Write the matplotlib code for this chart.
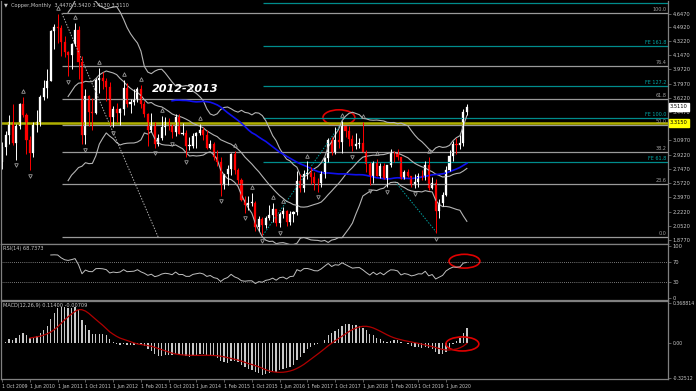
import numpy as np
import pandas as pd
import matplotlib
matplotlib.use("Agg")
import matplotlib.pyplot as plt
from matplotlib.patches import Ellipse

# Copper, monthly bars, Oct 2009 .. Dec 2020
opens = [2.83, 3.02, 3.17,
         3.33, 3.07, 3.28, 3.55, 3.41, 3.10, 2.94, 3.29, 3.33, 3.63, 3.74, 3.83,
         4.44, 4.49, 4.48, 4.31, 4.19, 4.15, 4.28, 4.46, 4.06, 3.16, 3.64, 3.45,
         3.43, 3.84, 3.86, 3.83, 3.75, 3.39, 3.49, 3.43, 3.49, 3.74, 3.54, 3.57,
         3.59, 3.73, 3.55, 3.42, 3.22, 3.31, 3.06, 3.13, 3.26, 3.32, 3.28, 3.20,
         3.39, 3.18, 3.19, 3.03, 3.03, 3.15, 3.19, 3.23, 3.17, 3.00, 3.05, 2.89,
         2.83, 2.55, 2.68, 2.75, 2.93, 2.73, 2.61, 2.36, 2.31, 2.33, 2.33, 2.04,
         2.13, 2.06, 2.15, 2.18, 2.25, 2.08, 2.20, 2.23, 2.09, 2.20, 2.22, 2.60,
         2.51, 2.69, 2.70, 2.65, 2.58, 2.57, 2.69, 2.88, 3.10, 2.95, 3.10, 3.08,
         3.30, 3.21, 3.12, 3.03, 3.06, 3.07, 2.96, 2.81, 2.66, 2.82, 2.66, 2.78,
         2.63, 2.80, 2.95, 2.94, 2.89, 2.63, 2.71, 2.66, 2.55, 2.59, 2.66, 2.65,
         2.79, 2.51, 2.58, 2.23, 2.33, 2.43, 2.73, 2.91, 3.05, 3.04, 3.07, 3.447]
highs = [3.08, 3.21, 3.41,
         3.55, 3.30, 3.56, 3.63, 3.43, 3.15, 3.32, 3.47, 3.65, 3.84, 3.97, 4.45,
         4.53, 4.65, 4.51, 4.38, 4.20, 4.30, 4.54, 4.50, 4.14, 3.73, 3.66, 3.62,
         3.87, 3.99, 3.94, 3.86, 3.81, 3.52, 3.56, 3.50, 3.84, 3.80, 3.61, 3.73,
         3.75, 3.78, 3.58, 3.44, 3.44, 3.33, 3.18, 3.40, 3.39, 3.37, 3.30, 3.42,
         3.42, 3.31, 3.22, 3.14, 3.19, 3.20, 3.30, 3.26, 3.22, 3.10, 3.08, 2.98,
         2.90, 2.68, 2.80, 2.94, 2.97, 2.76, 2.64, 2.42, 2.42, 2.45, 2.35, 2.17,
         2.16, 2.17, 2.30, 2.33, 2.26, 2.22, 2.28, 2.24, 2.23, 2.23, 2.72, 2.68,
         2.73, 2.84, 2.77, 2.71, 2.64, 2.72, 2.89, 3.13, 3.14, 3.26, 3.22, 3.34,
         3.28, 3.27, 3.17, 3.19, 3.13, 3.33, 2.98, 2.83, 2.84, 2.87, 2.82, 2.82,
         2.80, 2.99, 2.97, 2.99, 2.90, 2.73, 2.75, 2.66, 2.68, 2.70, 2.73, 2.85,
         2.90, 2.65, 2.63, 2.38, 2.47, 2.78, 2.98, 3.09, 3.13, 3.17, 3.48, 3.542]
lows = [2.75, 2.92, 3.05,
        3.04, 2.86, 3.24, 3.38, 2.93, 2.73, 2.90, 3.20, 3.28, 3.60, 3.62, 3.83,
        4.22, 4.30, 4.14, 4.12, 3.89, 3.97, 4.26, 3.85, 3.06, 3.05, 3.27, 3.23,
        3.42, 3.68, 3.73, 3.58, 3.29, 3.26, 3.33, 3.29, 3.41, 3.51, 3.44, 3.53,
        3.57, 3.50, 3.38, 3.03, 3.20, 3.01, 3.03, 3.10, 3.17, 3.22, 3.13, 3.15,
        3.18, 3.16, 2.90, 2.98, 3.01, 3.01, 3.17, 3.10, 2.99, 2.99, 2.86, 2.78,
        2.42, 2.50, 2.55, 2.67, 2.69, 2.56, 2.35, 2.21, 2.24, 2.29, 1.99, 1.99,
        1.935, 2.02, 2.12, 2.10, 2.05, 2.03, 2.14, 2.05, 2.06, 2.09, 2.18, 2.46,
        2.46, 2.62, 2.56, 2.49, 2.47, 2.52, 2.64, 2.83, 2.92, 2.93, 3.01, 2.94,
        3.14, 3.03, 2.97, 2.99, 3.00, 2.96, 2.71, 2.55, 2.58, 2.66, 2.64, 2.62,
        2.53, 2.77, 2.83, 2.86, 2.62, 2.62, 2.65, 2.52, 2.51, 2.53, 2.61, 2.61,
        2.49, 2.50, 1.96, 2.15, 2.29, 2.42, 2.72, 2.84, 2.93, 2.99, 3.03, 3.413]
closes = [3.02, 3.17, 3.33,
          3.07, 3.28, 3.55, 3.41, 3.10, 2.94, 3.29, 3.33, 3.63, 3.74, 3.83, 4.44,
          4.49, 4.48, 4.31, 4.19, 4.15, 4.28, 4.46, 4.06, 3.16, 3.64, 3.45, 3.43,
          3.84, 3.86, 3.83, 3.75, 3.39, 3.49, 3.43, 3.49, 3.74, 3.54, 3.57, 3.59,
          3.73, 3.55, 3.42, 3.22, 3.31, 3.06, 3.13, 3.26, 3.32, 3.28, 3.20, 3.39,
          3.18, 3.19, 3.03, 3.03, 3.15, 3.19, 3.23, 3.17, 3.00, 3.05, 2.89, 2.83,
          2.55, 2.68, 2.75, 2.93, 2.73, 2.61, 2.36, 2.31, 2.33, 2.33, 2.04, 2.13,
          2.06, 2.15, 2.18, 2.25, 2.08, 2.20, 2.23, 2.09, 2.20, 2.22, 2.60, 2.51,
          2.69, 2.70, 2.65, 2.58, 2.57, 2.69, 2.88, 3.10, 2.95, 3.10, 3.08, 3.30,
          3.21, 3.12, 3.03, 3.06, 3.07, 2.96, 2.81, 2.66, 2.82, 2.66, 2.78, 2.63,
          2.80, 2.95, 2.94, 2.89, 2.63, 2.71, 2.66, 2.55, 2.59, 2.66, 2.65, 2.79,
          2.51, 2.58, 2.23, 2.33, 2.43, 2.73, 2.91, 3.05, 3.04, 3.07, 3.447, 3.511]

date_labels = ["1 Oct 2009", "1 Jun 2010", "1 Jan 2011", "1 Oct 2011", "1 Jun 2012",
               "1 Feb 2013", "1 Oct 2013", "1 Jun 2014", "1 Feb 2015", "1 Oct 2015",
               "1 Jun 2016", "1 Feb 2017", "1 Oct 2017", "1 Jun 2018", "1 Feb 2019",
               "1 Oct 2019", "1 Jun 2020"]
price_ticks = [4.6470, 4.4920, 4.3220, 4.1470, 3.9720, 3.7970, 3.6220, 3.4470, 3.2720,
               3.0970, 2.9220, 2.7470, 2.5720, 2.3970, 2.2220, 2.0520, 1.8770]

fib_names = ["100.0", "76.4", "61.8", "50.0", "38.2", "23.6", "0.0"]
fib_prices = [4.659, 4.010, 3.608, 3.284, 2.959, 2.557, 1.908]
fe_names = ["", "FE 161.8", "FE 127.2", "FE 100.0", "FE 61.8"]
fe_prices = [4.790, 4.258, 3.766, 3.373, 2.833]
yellow_price = 3.315

rsi_ticks = [100, 70, 30, 0]
macd_ticks = [0.368814, 0.0, -0.32512]
macd_tick_labels = ["0.368814", "0.00", "-0.32512"]

BG = "black"
GRID = "#808080"
TXT = "#c8c8c8"
W, H = 696, 391


def box(x0, y0, x1, y1):
    return [x0 / W, 1 - y1 / H, (x1 - x0) / W, (y1 - y0) / H]


n = len(closes)
idx = np.arange(n)
o, h, l, c = map(np.array, (opens, highs, lows, closes))
close = pd.Series(c)

# indicators of the price series
mid = close.rolling(20).mean()
sd = close.rolling(20).std(ddof=0)
ma50 = close.rolling(50).mean()
delta = close.diff()
gain = delta.clip(lower=0).ewm(alpha=1 / 14, adjust=False, min_periods=14).mean()
loss = (-delta.clip(upper=0)).ewm(alpha=1 / 14, adjust=False, min_periods=14).mean()
rsi = 100 - 100 / (1 + gain / loss)
macd = close.ewm(span=12, adjust=False).mean() - close.ewm(span=26, adjust=False).mean()
signal = macd.rolling(9).mean()

fig = plt.figure(figsize=(W / 100, H / 100), dpi=100, facecolor=BG)
ax = fig.add_axes(box(1, 1, 668, 244), facecolor=BG)
ax_rsi = fig.add_axes(box(1, 244, 668, 300), facecolor=BG, sharex=ax)
ax_macd = fig.add_axes(box(1, 301, 668, 379), facecolor=BG, sharex=ax)

for a in (ax, ax_rsi, ax_macd):
    for s in a.spines.values():
        s.set_color(GRID)
        s.set_linewidth(0.9)
    a.yaxis.tick_right()
    a.tick_params(axis="y", colors=GRID, labelcolor=TXT, labelsize=3.7, length=2,
                  width=0.5, pad=1.2)
    a.tick_params(axis="x", bottom=False, labelbottom=False)
ax.spines["top"].set_visible(False)

ax.set_xlim(-0.35, 192.0)
ax.set_ylim(1.8254, 4.8107)
ax_rsi.set_ylim(-4.9, 104.9)
ax_macd.set_ylim(-0.3342, 0.3873)

# fibo retracement and expansion levels
ax.hlines(fib_prices, 17.2, 192, color="#9a9a9a", lw=0.9)
ax.hlines(fe_prices, 75.2, 192, color="#008c8c", lw=0.9)
for name, p in zip(fib_names, fib_prices):
    ax.text(191.6, p + 0.012, name, color="#a0a0a0", fontsize=3.5, ha="right", va="bottom")
for name, p in zip(fe_names, fe_prices):
    ax.text(191.6, p + 0.012, name, color="#00a8a8", fontsize=3.5, ha="right", va="bottom")
ax.plot([17.2, 45.0], [fib_prices[0], fib_prices[-1]], color="#b0b0b0", lw=0.7, ls=(0, (1.5, 1.5)))
ax.plot([75.2, 98.3], [1.935, 3.34], color="#00a0a0", lw=0.7, ls=(0, (1.5, 1.5)))
ax.plot([113.3, 125.4], [2.59, 1.96], color="#00a0a0", lw=0.7, ls=(0, (1.5, 1.5)))
ax.axhline(yellow_price, color="#b0b000", lw=1.8)

# bollinger bands and moving average
for band in (mid + 2 * sd, mid, mid - 2 * sd):
    ax.plot(idx, band, color="#b4b4b4", lw=0.8)
ax.plot(idx, ma50, color="#1010f0", lw=1.2)

# candles
up = c >= o
col = np.where(up, "#ffffff", "#ff0000")
ax.vlines(idx, l, h, colors=col, lw=0.7)
ax.bar(idx, np.maximum(np.abs(c - o), 0.006), bottom=np.minimum(o, c), width=0.6,
       color=col, edgecolor=col, linewidth=0.2)

# fractals
up_f = [i for i in range(2, n - 2) if h[i] > max(h[i - 2], h[i - 1], h[i + 1], h[i + 2])]
dn_f = [i for i in range(2, n - 2) if l[i] < min(l[i - 2], l[i - 1], l[i + 1], l[i + 2])]
ax.plot(up_f, h[up_f] + 0.07, ls="none", marker="^", ms=2.6, mfc="none", mec="#9a9a9a", mew=0.6)
ax.plot(dn_f, l[dn_f] - 0.07, ls="none", marker="v", ms=2.6, mfc="none", mec="#9a9a9a", mew=0.6)

ax.set_yticks(price_ticks, [f"{v:.4f}" for v in price_ticks])
ax.text(52.7, 3.73, "2012-2013", color="white", fontsize=8, fontweight="bold",
        fontstyle="italic", ha="center", va="center")
ax.add_patch(Ellipse((97.1, 3.379), 9.2, 0.19, fill=False, ec="#e00000", lw=1.2))
ax.text(0.004, 0.993, "\u25bc  Copper,Monthly  3.4470 3.5420 3.4130 3.5110", transform=ax.transAxes,
        color=TXT, fontsize=3.6, ha="left", va="top")
ax.text(1.003, c[-1], "3.5110", transform=ax.get_yaxis_transform(), color="black",
        fontsize=3.7, ha="left", va="center",
        bbox=dict(boxstyle="square,pad=0.25", fc="white", ec="white"))
ax.text(1.003, yellow_price, "3.3150", transform=ax.get_yaxis_transform(), color="black",
        fontsize=3.7, ha="left", va="center",
        bbox=dict(boxstyle="square,pad=0.25", fc="#ffff00", ec="#ffff00"))

# RSI
ax_rsi.plot(idx, rsi, color="#c0c0c0", lw=0.7)
ax_rsi.axhline(70, color="#a0a0a0", lw=0.6, ls=(0, (1, 1.5)))
ax_rsi.axhline(30, color="#a0a0a0", lw=0.6, ls=(0, (1, 1.5)))
ax_rsi.set_yticks(rsi_ticks, [str(v) for v in rsi_ticks])
ax_rsi.text(0.003, 0.97, "RSI(14) 68.7373", transform=ax_rsi.transAxes,
            color=TXT, fontsize=3.6, ha="left", va="top")
ax_rsi.add_patch(Ellipse((133.3, 71.2), 8.9, 27, fill=False, ec="#e00000", lw=1.2))

# MACD
ax_macd.bar(idx, macd, width=0.38, color="#c8c8c8")
ax_macd.plot(idx, signal, color="#b00000", lw=0.9)
ax_macd.set_yticks(macd_ticks, macd_tick_labels)
ax_macd.tick_params(axis="y", labelsize=3.3)
ax_macd.text(0.003, 0.97, "MACD(12,26,9) 0.11400 -0.00709",
             transform=ax_macd.transAxes, color=TXT, fontsize=3.6, ha="left", va="top")
ax_macd.add_patch(Ellipse((132.7, -0.01), 9.5, 0.13, fill=False, ec="#e00000", lw=1.2))

ax_macd.tick_params(axis="x", bottom=True, labelbottom=True, colors=GRID, labelcolor=TXT,
                    labelsize=3.3, length=2, width=0.5, pad=1.5)
ax_macd.set_xticks(np.arange(0, 8 * len(date_labels), 8), date_labels)
for lab in ax_macd.get_xticklabels():
    lab.set_ha("left")

fig.savefig("out.png", dpi=100, facecolor=BG)
